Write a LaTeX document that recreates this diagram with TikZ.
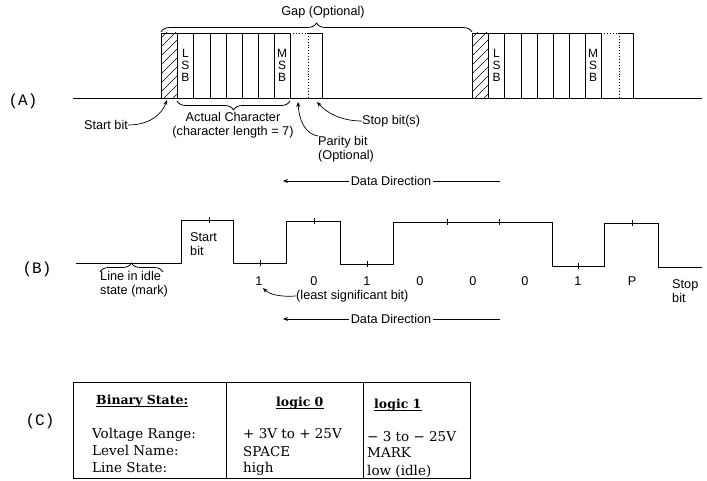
\documentclass[tikz,border=0pt]{standalone}
\usepackage{fontspec}
\setmainfont{Liberation Sans}
\newfontfamily\tabfont{DejaVu Serif}
\newfontfamily\monofnt{Liberation Mono}
\usetikzlibrary{decorations.pathreplacing,arrows.meta}
\begin{document}
\begin{tikzpicture}[x=1pt,y=-1pt,
  wire/.style={line width=0.9pt},
  thin wire/.style={line width=0.6pt},
  lab/.style={font=\fontsize{12.7}{14}\selectfont, inner sep=0pt, align=left},
  bitltr/.style={font=\fontsize{12}{12}\selectfont, inner sep=0pt, align=center},
  tabtxt/.style={font=\tabfont\fontsize{13.5}{16}\selectfont, inner sep=0pt, anchor=base west},
  tabhead/.style={font=\tabfont\bfseries\fontsize{12.5}{15}\selectfont, inner sep=0pt, anchor=base west},
  sect/.style={font=\monofnt\fontsize{16}{18}\selectfont, inner sep=0pt},
  arr/.style={line width=0.7pt, -{Stealth[length=5pt,width=4pt]}},
  brc/.style={line width=0.8pt, decorate, decoration={brace, amplitude=9pt}}
]
\useasboundingbox (0,0) rectangle (707,481);

% ---------------- (A) ----------------
\node[sect] (secA) at (23,101) {(A)};
\draw[wire] (73,98) -- (702,98);

% frames
\foreach \off/\i in {0/1,311/2}{
  \begin{scope}[xshift=\off pt]
    \begin{scope}
      \clip (161,33) rectangle (177,98);
      \foreach \k in {38,47,...,128} \draw[line width=0.5pt] (161,\k) -- (177,\k-16);
    \end{scope}
    \draw[wire] (161,98) -- (161,33) -- (290,33);
    \foreach \x in {177,193.5,210,226,242,258.5,274,290} \draw[wire] (\x,33) -- (\x,98);
    \draw[wire, dotted] (290,33) -- (308,33);
    \draw[wire, dotted] (308,33) -- (308,98);
    \draw[wire] (308,33) -- (322,33) -- (322,98);
  \end{scope}
}
\node[bitltr] (lsb1) at (185.5,65) {L\\S\\B};
\node[bitltr] (msb1) at (282,65) {M\\S\\B};
\node[bitltr] (lsb2) at (496.5,65) {L\\S\\B};
\node[bitltr] (msb2) at (593,65) {M\\S\\B};

% gap brace
\draw[brc] (161,32) -- (472,32);
\node[lab] (gap) at (323,12) {Gap (Optional)};

% actual character brace
\draw[brc] (290,101) -- (177,101);
\node[lab, align=center] (actchar) at (233,125) {Actual Character\\(character length = 7)};

% start bit label
\node[lab] (startA) at (106,125) {Start bit};
\coordinate (startTip) at (167,100);
\draw[arr] (startA.east) .. controls (150,125) and (162,114) .. (startTip);

% parity bit
\node[lab, anchor=north west] (parity) at (318,136) {Parity bit\\(Optional)};
\coordinate (parityTip) at (298,102);
\draw[arr] (parity.north west) .. controls (305,134) and (299,120) .. (parityTip);

% stop bit(s)
\node[lab, anchor=west] (stopA) at (362,121) {Stop bit(s)};
\coordinate (stopTip) at (317,102);
\draw[arr] (stopA.west) .. controls (340,121) and (326,112) .. (stopTip);

% data direction 1
\node[lab] (dd1) at (391,181) {Data Direction};
\coordinate (dd1L) at (283,181);
\coordinate (dd1R) at (500,181);
\draw[arr] ([xshift=-2pt]dd1.west) -- (dd1L);
\draw[thin wire] ([xshift=2pt]dd1.east) -- (dd1R);

% ---------------- (B) ----------------
\node[sect] (secB) at (37,269) {(B)};
\draw[wire] (76,263) -- (181,263) -- (181,220) -- (233,220) -- (233,263)
  -- (286,263) -- (286,221) -- (340,221) -- (340,264) -- (393,264)
  -- (393,222) -- (552,222) -- (552,266) -- (604,266) -- (604,223)
  -- (658,223) -- (658,267) -- (702,267);
\foreach \x/\y in {209/220,260/263,314/221,367/264,447/222,499/222,578/266,632/223}
  \draw[thin wire] (\x,\y-3) -- (\x,\y+3);

\node[lab, anchor=west] (startB) at (190,244) {Start\\bit};

\draw[brc] (100,272) -- (163,272);
\node[lab, anchor=north west] (idle) at (100,271) {Line in idle\\state (mark)};

\foreach \x/\t/\n in {259/1/b1,314/0/b2,367/1/b3,420/0/b4,473/0/b5,525/0/b6,578/1/b7,632/P/b8}
  \node[lab] (\n) at (\x,281) {\t};
\node[lab, anchor=north west] (stopB) at (672,279) {Stop\\bit};

\node[lab, anchor=west] (lsbnote) at (296,296) {(least significant bit)};
\coordinate (lsbTip) at (263,288);
\draw[arr] (lsbnote.west) .. controls (282,297) and (270,295) .. (lsbTip);

% data direction 2
\node[lab] (dd2) at (391,319) {Data Direction};
\coordinate (dd2L) at (283,319);
\coordinate (dd2R) at (500,319);
\draw[arr] ([xshift=-2pt]dd2.west) -- (dd2L);
\draw[thin wire] ([xshift=2pt]dd2.east) -- (dd2R);

% ---------------- (C) ----------------
\node[sect] (secC) at (40,421) {(C)};
\draw[wire] (73,382) rectangle (470,478);
\draw[wire] (226,382) -- (226,478);
\draw[wire] (363,382) -- (363,478);

\node[tabhead] (hbin) at (96,404) {Binary State:};
\node[tabhead] (hl0) at (276,406) {logic 0};
\node[tabhead] (hl1) at (374,408) {logic 1};
\foreach \n in {hbin,hl0,hl1}
  \draw[thin wire] ([yshift=-2.5pt]\n.base west) -- ([yshift=-2.5pt]\n.base east);

\node[tabtxt] (r1c1) at (92,438) {Voltage Range:};
\node[tabtxt] (r2c1) at (92,455) {Level Name:};
\node[tabtxt] (r3c1) at (92,472) {Line State:};
\node[tabtxt] (r1c2) at (243,438) {+ 3V to + 25V};
\node[tabtxt] (r2c2) at (243,456) {SPACE};
\node[tabtxt] (r3c2) at (243,472) {high};
\node[tabtxt] (r1c3) at (367,441) {− 3 to − 25V};
\node[tabtxt] (r2c3) at (367,457) {MARK};
\node[tabtxt] (r3c3) at (367,475) {low (idle)};
\end{tikzpicture}
\end{document}
